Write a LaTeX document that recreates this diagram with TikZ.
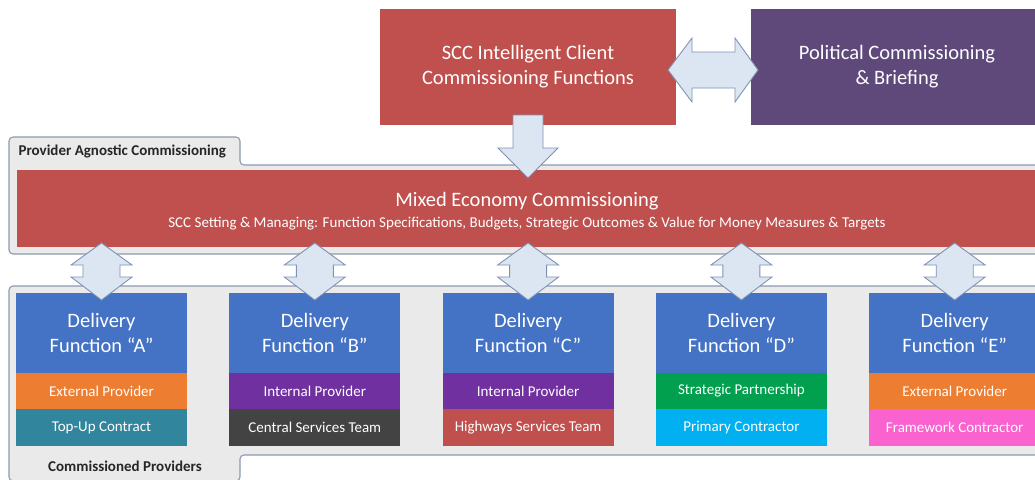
\documentclass[tikz,border=0pt]{standalone}
\usepackage{fontspec}
\setmainfont{Carlito}
\usetikzlibrary{calc}
\definecolor{sccred}{HTML}{C0504D}
\definecolor{polpurple}{HTML}{5F497A}
\definecolor{funcblue}{HTML}{4472C4}
\definecolor{extorange}{HTML}{ED7D31}
\definecolor{topteal}{HTML}{31859C}
\definecolor{intpurple}{HTML}{7030A0}
\definecolor{centgray}{HTML}{434343}
\definecolor{stratgreen}{HTML}{00A04E}
\definecolor{primcyan}{HTML}{00B0F0}
\definecolor{framepink}{HTML}{FA62D0}
\definecolor{panelfill}{HTML}{EAEAEA}
\definecolor{panelline}{HTML}{8D9AB0}
\definecolor{arrowfill}{HTML}{DCE6F2}
\definecolor{arrowline}{HTML}{7F92B2}
\begin{document}
\begin{tikzpicture}[x=1pt,y=-1pt,
  panel/.style={draw=panelline, line width=1.1pt, fill=panelfill, rounded corners=4pt},
  box/.style={inner sep=0pt, outer sep=0pt, text=white, align=center, anchor=north west},
  big/.style={font=\fontsize{20.5}{25}\selectfont},
  small/.style={font=\fontsize{15}{17}\selectfont},
  tag/.style={font=\bfseries\fontsize{15}{17}\selectfont, text=black!85},
  blockarrow/.style={draw=arrowline, fill=arrowfill, line width=0.9pt, line join=miter}
]
\clip (0,0) rectangle (1035,479);

% grouping panels
\path[panel] (9,254) -- (9,137) -- (240,137) -- (240,165) -- (1045,165) -- (1045,254) -- cycle;
\path[panel] (9,286) -- (1045,286) -- (1045,455) -- (240,455) -- (240,481) -- (9,481) -- cycle;
\node[tag, anchor=west] (pactag) at (15,151) {Provider Agnostic Commissioning};
\node[tag] (cptag) at (125,466) {Commissioned Providers};

% top level boxes
\node[box, fill=sccred, minimum width=296pt, minimum height=116pt, big] (scc) at (380,9)
  {SCC Intelligent Client\\Commissioning Functions};
\node[box, fill=polpurple, minimum width=292pt, minimum height=116pt, big] (pol) at (751,9)
  {Political Commissioning\\\& Briefing};

% mixed economy bar
\node[box, fill=sccred, minimum width=1020pt, minimum height=77pt] (mec) at (17,170) {};
\node[big, text=white] (mect) at (527,201) {Mixed Economy Commissioning};
\node[font=\fontsize{15}{17}\selectfont, text=white] (mecs) at (527,224)
  {SCC Setting \& Managing: Function Specifications, Budgets, Strategic Outcomes \& Value for Money Measures \& Targets};

% delivery functions
\foreach \i/\l/\pc/\pt/\tc/\tt in {
  0/A/extorange/External Provider/topteal/Top-Up Contract,
  1/B/intpurple/Internal Provider/centgray/Central Services Team,
  2/C/intpurple/Internal Provider/sccred/Highways Services Team,
  3/D/stratgreen/Strategic Partnership/primcyan/Primary Contractor,
  4/E/extorange/External Provider/framepink/Framework Contractor} {
  \node[box, fill=funcblue, minimum width=171pt, minimum height=80pt, big] (d\l) at (16+213.3*\i,293)
    {Delivery\\Function “\l”};
  \node[box, fill=\pc, minimum width=171pt, minimum height=36pt, small] (d\l p) at (d\l.south west) {\pt};
  \node[box, fill=\tc, minimum width=171pt, minimum height=37pt, small] (d\l t) at (d\l p.south west) {\tt};
}

% block arrows between levels
\foreach \l in {A,B,C,D,E} {
  \path[blockarrow] let \p1=(d\l.north), \p2=(mec.south) in
    (\x1,\y2+4pt) -- (\x1+30.5pt,\y2-18pt) -- (\x1+18.5pt,\y2-18pt) -- (\x1+18.5pt,\y1+16pt)
    -- (\x1+30.5pt,\y1+16pt) -- (\x1,\y1-7pt) -- (\x1-30.5pt,\y1+16pt) -- (\x1-18.5pt,\y1+16pt)
    -- (\x1-18.5pt,\y2-18pt) -- (\x1-30.5pt,\y2-18pt) -- cycle;
}
\path[blockarrow] let \p1=(scc.east), \p2=(pol.west) in
  (\x1-8pt,\y1-3pt) -- (\x1+16pt,\y1+29pt) -- (\x1+16pt,\y1+15pt) -- (\x2-16pt,\y1+15pt)
  -- (\x2-16pt,\y1+29pt) -- (\x2+7pt,\y1-3pt) -- (\x2-16pt,\y1-35pt) -- (\x2-16pt,\y1-21pt)
  -- (\x1+16pt,\y1-21pt) -- (\x1+16pt,\y1-35pt) -- cycle;
\path[blockarrow] let \p1=(scc.south), \p2=(mec.north) in
  (\x1-15pt,\y1+10pt) -- (\x1+15pt,\y1+10pt) -- (\x1+15pt,\y2+22pt) -- (\x1+30pt,\y2+22pt)
  -- (\x1,\y2-8pt) -- (\x1-30pt,\y2+22pt) -- (\x1-15pt,\y2+22pt) -- cycle;
\end{tikzpicture}
\end{document}
